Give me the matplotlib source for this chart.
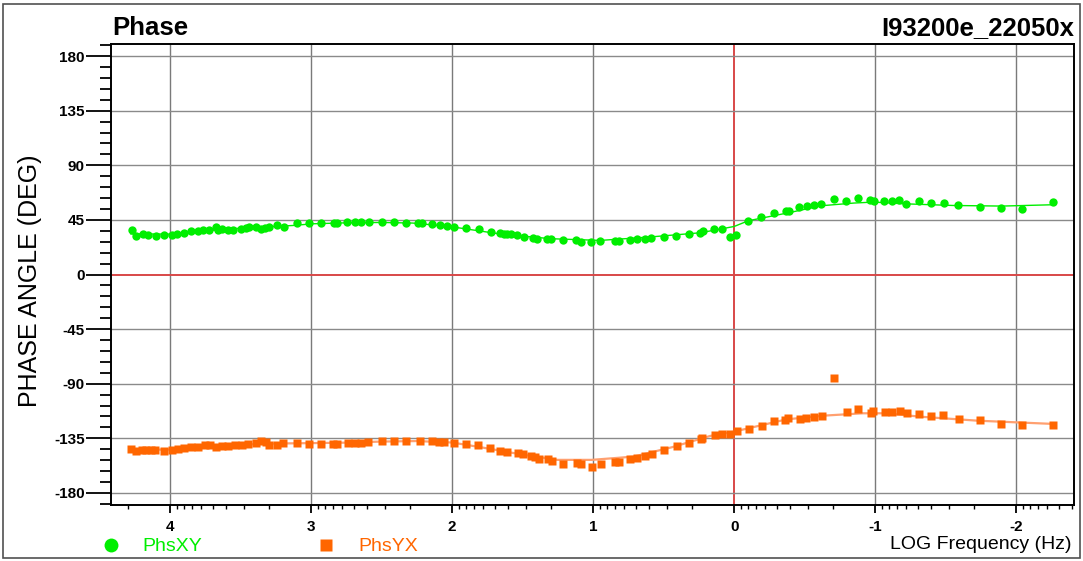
import numpy as np
import matplotlib
matplotlib.use("Agg")
import matplotlib.pyplot as plt
from matplotlib.patches import Rectangle
from matplotlib.lines import Line2D

plt.rcParams['font.family'] = ['Liberation Sans', 'DejaVu Sans']

# ---- data (log10 frequency, phase in degrees) ----
xy_logf = [4.272, 4.24, 4.19, 4.157, 4.10, 4.047, 3.99, 3.95, 3.90, 3.85,
           3.80, 3.767, 3.727, 3.672, 3.66, 3.63, 3.59, 3.553, 3.50, 3.466,
           3.44, 3.39, 3.357, 3.33, 3.30, 3.243, 3.19, 3.10, 3.016, 2.93,
           2.84, 2.816, 2.745, 2.69, 2.645, 2.59, 2.50, 2.413, 2.325, 2.24,
           2.215, 2.14, 2.09, 2.04, 1.99, 1.90, 1.81, 1.725, 1.664, 1.636,
           1.61, 1.586, 1.54, 1.494, 1.428, 1.40, 1.328, 1.30, 1.213, 1.123,
           1.087, 1.014, 0.95, 0.844, 0.82, 0.742, 0.69, 0.636, 0.589, 0.50,
           0.411, 0.324, 0.241, 0.218, 0.14, 0.09, 0.033, -0.014, -0.10, -0.19,
           -0.28, -0.366, -0.387, -0.463, -0.515, -0.567, -0.617, -0.705, -0.794, -0.88,
           -0.964, -0.988, -1.064, -1.116, -1.17, -1.22, -1.31, -1.395, -1.485, -1.59,
           -1.74, -1.894, -2.04, -2.26]
xy_phase = [36.9, 32, 33.6, 32.5, 32, 32.5, 32.8, 33.6, 34.4, 35.5,
            36, 36.6, 36.9, 38.8, 36.6, 37.7, 36.9, 36.9, 37.5, 38.3,
            38.8, 38.8, 37.5, 38.3, 39.4, 40.4, 39.4, 42.4, 42.1, 42.1,
            42.4, 42.4, 42.9, 42.9, 42.9, 42.9, 43.2, 42.9, 42.7, 42.4,
            42.1, 41.3, 40.8, 40.2, 39.4, 38.6, 37.2, 35.3, 34.2, 33.6,
            33.4, 33.4, 32.2, 30.9, 29.7, 29.5, 28.9, 28.9, 28.1, 28.1,
            26.8, 26.4, 27.3, 27.3, 27.3, 28.4, 28.9, 29.5, 30.1, 30.9,
            32, 33, 33.9, 35.8, 37.7, 37.7, 30.9, 32.8, 43.7, 47.6,
            50.9, 52.6, 52, 55.6, 56.7, 57.5, 58.1, 61.9, 60.2, 63,
            61.4, 60.2, 60.8, 60.8, 61, 58.3, 60.5, 58.9, 58.9, 56.9,
            55.6, 55, 53.6, 59.4]

yx_logf = [4.28, 4.24, 4.20, 4.17, 4.135, 4.11, 4.047, 3.99, 3.946, 3.90,
           3.85, 3.80, 3.75, 3.72, 3.675, 3.63, 3.59, 3.54, 3.49, 3.45,
           3.39, 3.355, 3.32, 3.30, 3.24, 3.20, 3.10, 3.016, 2.93, 2.845,
           2.82, 2.74, 2.69, 2.645, 2.60, 2.50, 2.41, 2.325, 2.227, 2.144,
           2.097, 2.06, 1.99, 1.90, 1.82, 1.735, 1.661, 1.612, 1.534, 1.499,
           1.444, 1.412, 1.385, 1.32, 1.293, 1.211, 1.114, 1.087, 1.011, 0.943,
           0.843, 0.816, 0.74, 0.691, 0.631, 0.585, 0.501, 0.407, 0.32, 0.238,
           0.225, 0.138, 0.089, 0.03, -0.019, -0.106, -0.195, -0.282, -0.363, -0.385,
           -0.466, -0.512, -0.569, -0.621, -0.705, -0.797, -0.881, -0.967, -0.986, -1.07,
           -1.116, -1.173, -1.225, -1.311, -1.396, -1.482, -1.591, -1.74, -1.894, -2.038,
           -2.263]
yx_phase = [-143.5, -145.4, -144.9, -144.9, -144.9, -144.9, -145.4, -144.6, -143.8, -142.7,
            -142.1, -142.1, -140.5, -140.5, -141.8, -141, -141, -140.2, -140.2, -139.4,
            -138.8, -137.1, -138.3, -140.5, -140.2, -138.8, -138.8, -139.6, -139.6, -139.6,
            -139.6, -138.8, -138.8, -138.8, -138, -137.1, -137.1, -137.1, -137.1, -137.1,
            -138.2, -138.2, -138.8, -139.6, -140.5, -143, -145.4, -146, -147.4, -148.2,
            -149.5, -150.1, -152, -152, -153.7, -156.1, -155.6, -156.4, -158.3, -156.4,
            -154.2, -154.2, -152, -151.5, -149.5, -147.9, -144.6, -141.3, -138.6, -135.6,
            -134.5, -132.3, -131.4, -131.4, -129, -127.3, -124.9, -120.7, -119.9, -118,
            -119.4, -118.5, -117.7, -116.6, -85.6, -113.3, -110.9, -114.4, -112.5, -113.6,
            -113.6, -112.5, -114.4, -115, -116.6, -115.8, -119.1, -119.9, -123.2, -124,
            -124]

# model (fitted) curves
xy_fit_logf = [4.28, 4.0, 3.75, 3.5, 3.13, 2.99, 2.75, 2.5, 2.28, 2.02, 1.66, 1.3,
               0.95, 0.6, 0.24, 0.0, -0.1, -0.39, -0.62, -0.85, -0.99, -1.2, -1.55, -1.9, -2.26]
xy_fit_phase = [33.5, 33.3, 36, 38.2, 40.4, 41.8, 42.6, 42.9, 42.4, 39.6, 33.4, 29.5,
                28.1, 30.9, 34.4, 39.6, 44.3, 51, 56.7, 58.9, 59.7, 58.3, 56.9, 56.4, 57.5]
yx_fit_logf = [4.28, 4.0, 3.75, 3.5, 3.25, 3.0, 2.75, 2.5, 2.25, 2.0, 1.797, 1.5, 1.255,
               1.01, 0.713, 0.442, 0.171, 0.0, -0.371, -0.642, -0.913, -1.076, -1.32, -1.726, -2.268]
yx_fit_phase = [-144.5, -144.3, -141.8, -140.2, -139.3, -139, -138.6, -137.7, -137.3, -138.5,
                -142.4, -148.5, -152.8, -152.8, -150.1, -142.4, -133.1, -129.5, -119.4, -116.3,
                -114.4, -114.4, -117.2, -120.5, -123.2]

x_major = [4, 3, 2, 1, 0, -1, -2]
x_labels = ['4', '3', '2', '1', '0', '-1', '-2']
y_major = [-180, -135, -90, -45, 0, 45, 90, 135, 180]

GREEN = '#00ee00'
ORANGE = '#ff6600'

W, H = 1083, 561
fig = plt.figure(figsize=(W / 100, H / 100), dpi=100)
fig.patch.set_facecolor('white')

ax = fig.add_axes([111 / W, 1 - 505 / H, (1074 - 111) / W, (505 - 44) / H])
ax.set_xlim(4.42, -2.41)
ax.set_ylim(-190, 190)

# grid
for xv in x_major:
    if xv == 0:
        ax.axvline(xv, color='#d84848', lw=1.4, zorder=1)
    else:
        ax.axvline(xv, color='#7a7a7a', lw=1.0, zorder=1)
for yv in y_major:
    if yv == 0:
        ax.axhline(yv, color='#d84848', lw=1.4, zorder=1)
    else:
        ax.axhline(yv, color='#8a8a8a', lw=1.0, zorder=1)

# fitted curves
ax.plot(xy_fit_logf, xy_fit_phase, color=GREEN, lw=1.0, zorder=2)
ax.plot(yx_fit_logf, yx_fit_phase, color='#ffa070', lw=1.6, zorder=2)

# data
ax.plot(xy_logf, xy_phase, 'o', color=GREEN, ms=6, mec='none', zorder=3)
ax.plot(yx_logf, yx_phase, 's', color=ORANGE, ms=5.8, mec='none', zorder=3)

# ticks
ax.set_xticks(x_major)
ax.set_xticklabels(x_labels)
minor_x = []
for dec in range(-3, 5):
    for k in range(2, 10):
        v = dec + np.log10(k)
        if -2.41 < v < 4.42:
            minor_x.append(v)
ax.set_xticks(minor_x, minor=True)
ax.set_yticks(y_major)
ax.set_yticklabels([str(v) for v in y_major])
ax.set_yticks([v for v in range(-189, 190, 9) if v % 45 != 0], minor=True)

ax.tick_params(axis='y', which='major', direction='out', length=18, width=1.3, pad=1,
               labelsize=11, colors='black')
ax.tick_params(axis='y', which='minor', direction='out', length=8, width=1.3)
ax.tick_params(axis='x', which='major', direction='out', length=6, width=1.3, pad=5,
               labelsize=11)
ax.tick_params(axis='x', which='minor', direction='out', length=3, width=1.0)
for lab in ax.get_xticklabels() + ax.get_yticklabels():
    lab.set_fontweight('bold')

for sp in ax.spines.values():
    sp.set_color('black')
    sp.set_linewidth(1.4)

# texts
fig.text(112 / W, 1 - 35 / H, 'Phase', fontsize=18.5, fontweight='bold', ha='left', va='baseline')
fig.text(1074 / W, 1 - 35 / H, 'I93200e_22050x', fontsize=18.5, fontweight='bold',
         ha='right', va='baseline')
fig.text(30 / W, 1 - 281 / H, 'PHASE ANGLE (DEG)', fontsize=18, rotation=90,
         ha='center', va='center')
fig.text(1072 / W, 1 - 549 / H, 'LOG Frequency (Hz)', fontsize=14, ha='right', va='baseline')

# legend
fig.add_artist(Line2D([111 / W], [1 - 545 / H], marker='o', color=GREEN, ms=10, mec='none',
                      ls='none', transform=fig.transFigure))
fig.text(142 / W, 1 - 551 / H, 'PhsXY', fontsize=14, color=GREEN, ha='left', va='baseline')
fig.add_artist(Line2D([326 / W], [1 - 545 / H], marker='s', color=ORANGE, ms=9, mec='none',
                      ls='none', transform=fig.transFigure))
fig.text(358 / W, 1 - 551 / H, 'PhsYX', fontsize=14, color=ORANGE, ha='left', va='baseline')

# outer frame
fig.add_artist(Rectangle((3 / W, 1 - 558 / H), (1080 - 3) / W, (558 - 4) / H,
                         transform=fig.transFigure, fill=False, edgecolor='#505050', lw=1.2))

fig.savefig('out.png', dpi=100)
